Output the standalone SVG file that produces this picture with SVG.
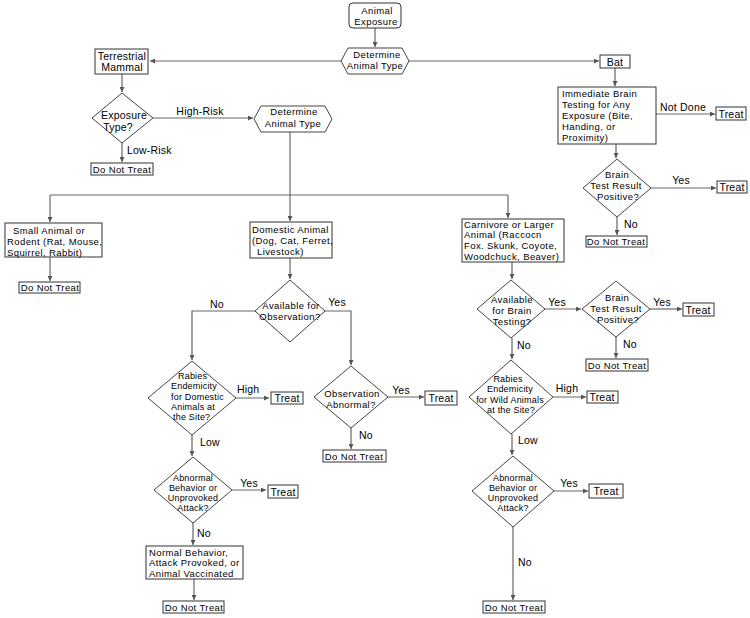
<svg xmlns="http://www.w3.org/2000/svg" width="750" height="618" viewBox="0 0 750 618">
<defs>
<marker id="ah" viewBox="0 0 6 6" refX="6" refY="3" markerWidth="5" markerHeight="5" orient="auto" markerUnits="userSpaceOnUse">
<path d="M0,0 L6,3 L0,6 z" fill="#555"/>
</marker>
<style>
text{font-family:"Liberation Sans",Arial,sans-serif;font-size:9.5px;letter-spacing:0.4px;fill:#000;}
.l{font-size:10.5px;letter-spacing:0.2px;}
.m{text-anchor:middle;}
.s{font-size:9px;letter-spacing:0.2px;}
.b{fill:#fff;stroke:#333;stroke-width:1;}
.d{fill:#fff;stroke:#444;stroke-width:1;}
.c{fill:none;stroke:#666;stroke-width:1.2;}
.a{marker-end:url(#ah);}
</style>
</defs>
<rect width="750" height="618" fill="#fff"/>

<g id="connectors">
<path class="c a" d="M375,28 V47"/>
<path class="c a" d="M341,61 H150"/>
<path class="c a" d="M409,61 H599"/>
<path class="c a" d="M122,74 V92"/>
<path class="c a" d="M153,118 H253"/>
<path class="c a" d="M122,143 V162"/>
<path class="c a" d="M290,132 V221"/>
<path class="c" d="M50,195 H508"/>
<path class="c a" d="M50,195 V222"/>
<path class="c a" d="M508,195 V218"/>
<path class="c a" d="M50,257 V281"/>
<path class="c a" d="M290,258 V279"/>
<path class="c a" d="M255,311 H192 V360"/>
<path class="c a" d="M325,311 H351 V365"/>
<path class="c a" d="M236,398 H269"/>
<path class="c a" d="M192,435 V456"/>
<path class="c a" d="M232,490 H266"/>
<path class="c a" d="M193,523 V545"/>
<path class="c a" d="M194,579 V600"/>
<path class="c a" d="M388,397 H424"/>
<path class="c a" d="M351,428 V449"/>
<path class="c a" d="M512,262 V279"/>
<path class="c a" d="M545,309 H581"/>
<path class="c a" d="M650,309 H682"/>
<path class="c a" d="M616,337 V358"/>
<path class="c a" d="M512,338 V359"/>
<path class="c a" d="M553,397 H586"/>
<path class="c a" d="M512,434 V455"/>
<path class="c a" d="M554,491 H588"/>
<path class="c a" d="M513,527 V600"/>
<path class="c a" d="M615,68 V86"/>
<path class="c a" d="M656,114 H715"/>
<path class="c a" d="M616,144 V158"/>
<path class="c a" d="M651,188 H716"/>
<path class="c a" d="M617,217 V235"/>
<text x="200" y="115" class="m l">High-Risk</text>
<text x="127" y="154" class="l">Low-Risk</text>
<text x="217" y="308" class="m l">No</text>
<text x="337" y="306" class="m l">Yes</text>
<text x="237" y="393" class="l">High</text>
<text x="200" y="446" class="l">Low</text>
<text x="249" y="487" class="m l">Yes</text>
<text x="197" y="537" class="l">No</text>
<text x="401" y="394" class="m l">Yes</text>
<text x="359" y="439" class="l">No</text>
<text x="557" y="306" class="m l">Yes</text>
<text x="662" y="306" class="m l">Yes</text>
<text x="623" y="348" class="l">No</text>
<text x="517" y="349" class="l">No</text>
<text x="567" y="392" class="m l">High</text>
<text x="518" y="444" class="l">Low</text>
<text x="569" y="487" class="m l">Yes</text>
<text x="518" y="566" class="l">No</text>
<text x="683" y="111" class="m l">Not Done</text>
<text x="681" y="184" class="m l">Yes</text>
<text x="624" y="228" class="l">No</text>
</g>

<g id="animal-exposure">
<rect class="b" x="349" y="3" width="52" height="25" rx="4"/>
<text x="377" y="14" class="m">Animal</text>
<text x="376" y="25" class="m">Exposure</text>
</g>

<g id="determine-type-1">
<polygon class="d" points="341,61 348,48 402,48 409,61 402,74 348,74"/>
<text x="377" y="58" class="m">Determine</text>
<text x="375" y="69" class="m">Animal Type</text>
</g>

<g id="terrestrial">
<rect class="b" x="95" y="49" width="53" height="25"/>
<text x="122" y="60" class="m l">Terrestrial</text>
<text x="122" y="71" class="m l">Mammal</text>
</g>

<g id="exposure-type">
<polygon class="d" points="122,93 153,118 122,143 92,118"/>
<text x="124" y="119" class="m l">Exposure</text>
<text x="118" y="131" class="m l">Type?</text>
</g>

<g id="dnt-lowrisk">
<rect class="b" x="91" y="163" width="62" height="12"/>
<text x="122" y="172.5" class="m">Do Not Treat</text>
</g>

<g id="determine-type-2">
<polygon class="d" points="254,119 261,106 325,106 332,119 325,132 261,132"/>
<text x="294" y="115" class="m">Determine</text>
<text x="293" y="127" class="m">Animal Type</text>
</g>

<g id="small-animal">
<rect class="b" x="5" y="223" width="97" height="34"/>
<text x="13" y="234">Small Animal or</text>
<text x="7" y="245">Rodent (Rat, Mouse,</text>
<text x="7" y="255.5">Squirrel, Rabbit)</text>
</g>

<g id="dnt-small">
<rect class="b" x="19" y="282" width="61" height="11"/>
<text x="50" y="291" class="m">Do Not Treat</text>
</g>

<g id="domestic">
<rect class="b" x="250" y="222" width="82" height="36"/>
<text x="252" y="233">Domestic Animal</text>
<text x="252" y="244">(Dog, Cat, Ferret,</text>
<text x="257" y="255">Livestock)</text>
</g>

<g id="available-observation">
<polygon class="d" points="290,280 325,311 290,342 255,311"/>
<text x="291" y="309" class="m">Available for</text>
<text x="290" y="320" class="m">Observation?</text>
</g>

<g id="rabies-domestic">
<polygon class="d" points="192,361 236,398 192,435 148,398"/>
<text x="178" y="379" class="s">Rabies</text>
<text x="171" y="389.3" class="s">Endemicity</text>
<text x="171" y="399.6" class="s">for Domestic</text>
<text x="171" y="409.9" class="s">Animals at</text>
<text x="173" y="420.2" class="s">the Site?</text>
</g>

<g id="treat-rabies-domestic">
<rect class="b" x="271" y="392" width="32" height="12"/>
<text x="287" y="402" class="m l">Treat</text>
</g>

<g id="abnormal-domestic">
<polygon class="d" points="193,457 232,490 193,523 154,490"/>
<text x="193" y="480.5" class="m s">Abnormal</text>
<text x="193" y="490.8" class="m s">Behavior or</text>
<text x="193" y="501.1" class="m s">Unprovoked</text>
<text x="193" y="511.4" class="m s">Attack?</text>
</g>

<g id="treat-abnormal-domestic">
<rect class="b" x="268" y="485" width="30" height="13"/>
<text x="283" y="495.5" class="m l">Treat</text>
</g>

<g id="normal-behavior">
<rect class="b" x="146" y="546" width="97" height="33"/>
<text x="149" y="555.5">Normal Behavior,</text>
<text x="149" y="566.3">Attack Provoked, or</text>
<text x="149" y="577">Animal Vaccinated</text>
</g>

<g id="dnt-normal">
<rect class="b" x="163" y="601" width="61" height="12"/>
<text x="194" y="610.5" class="m">Do Not Treat</text>
</g>

<g id="observation-abnormal">
<polygon class="d" points="351,366 388,397 351,428 314,397"/>
<text x="352" y="397" class="m">Observation</text>
<text x="351" y="408" class="m">Abnormal?</text>
</g>

<g id="treat-observation">
<rect class="b" x="425" y="391" width="32" height="14"/>
<text x="441" y="402" class="m l">Treat</text>
</g>

<g id="dnt-observation">
<rect class="b" x="323" y="450" width="63" height="12"/>
<text x="354" y="459.5" class="m">Do Not Treat</text>
</g>

<g id="carnivore">
<rect class="b" x="462" y="219" width="102" height="43"/>
<text x="464" y="227.5">Carnivore or Larger</text>
<text x="464" y="238.3">Animal (Raccocn</text>
<text x="464" y="249">Fox. Skunk, Coyote,</text>
<text x="464" y="259.8">Woodchuck, Beaver)</text>
</g>

<g id="available-brain">
<polygon class="d" points="511,280 545,309 511,338 477,309"/>
<text x="512" y="302.5" class="m">Available</text>
<text x="512" y="313.5" class="m">for Brain</text>
<text x="512" y="324.5" class="m">Testing?</text>
</g>

<g id="brain-test-2">
<polygon class="d" points="616,281 650,309 616,337 582,309"/>
<text x="617" y="301" class="m">Brain</text>
<text x="616" y="312" class="m">Test Result</text>
<text x="618" y="323" class="m">Positive?</text>
</g>

<g id="treat-brain-2">
<rect class="b" x="683" y="303" width="31" height="13"/>
<text x="698" y="313.5" class="m l">Treat</text>
</g>

<g id="dnt-brain-2">
<rect class="b" x="586" y="359" width="62" height="12"/>
<text x="617" y="368.5" class="m">Do Not Treat</text>
</g>

<g id="rabies-wild">
<polygon class="d" points="511,360 553,397 511,434 469,397"/>
<text x="508" y="382" class="m s">Rabies</text>
<text x="510" y="392.3" class="m s">Endemicity</text>
<text x="510" y="402.6" class="m s">for Wild Animals</text>
<text x="511" y="412.9" class="m s">at the Site?</text>
</g>

<g id="treat-rabies-wild">
<rect class="b" x="587" y="391" width="31" height="12"/>
<text x="602" y="401" class="m l">Treat</text>
</g>

<g id="abnormal-wild">
<polygon class="d" points="513,456 554,491 513,527 472,491"/>
<text x="513" y="480.5" class="m s">Abnormal</text>
<text x="513" y="490.8" class="m s">Behavior or</text>
<text x="513" y="501.1" class="m s">Unprovoked</text>
<text x="513" y="511.4" class="m s">Attack?</text>
</g>

<g id="treat-abnormal-wild">
<rect class="b" x="589" y="484" width="34" height="14"/>
<text x="606" y="495" class="m l">Treat</text>
</g>

<g id="dnt-wild">
<rect class="b" x="483" y="601" width="62" height="12"/>
<text x="514" y="610.5" class="m">Do Not Treat</text>
</g>

<g id="bat">
<rect class="b" x="600" y="55" width="30" height="13"/>
<text x="615" y="65.5" class="m l">Bat</text>
</g>

<g id="immediate-brain">
<rect class="b" x="558" y="87" width="98" height="57"/>
<text x="562" y="96.5">Immediate Brain</text>
<text x="562" y="107.5">Testing for Any</text>
<text x="562" y="118.5">Exposure (Bite,</text>
<text x="562" y="129.5">Handing, or</text>
<text x="562" y="140.5">Proximity)</text>
</g>

<g id="treat-notdone">
<rect class="b" x="716" y="107" width="30" height="13"/>
<text x="731" y="117.5" class="m l">Treat</text>
</g>

<g id="brain-test-1">
<polygon class="d" points="617,159 651,188 617,217 583,188"/>
<text x="617" y="177.5" class="m">Brain</text>
<text x="616" y="188.5" class="m">Test Result</text>
<text x="618" y="199.5" class="m">Positive?</text>
</g>

<g id="treat-brain-1">
<rect class="b" x="717" y="181" width="30" height="12"/>
<text x="732" y="191" class="m l">Treat</text>
</g>

<g id="dnt-brain-1">
<rect class="b" x="586" y="236" width="61" height="11"/>
<text x="616" y="245" class="m">Do Not Treat</text>
</g>
</svg>
